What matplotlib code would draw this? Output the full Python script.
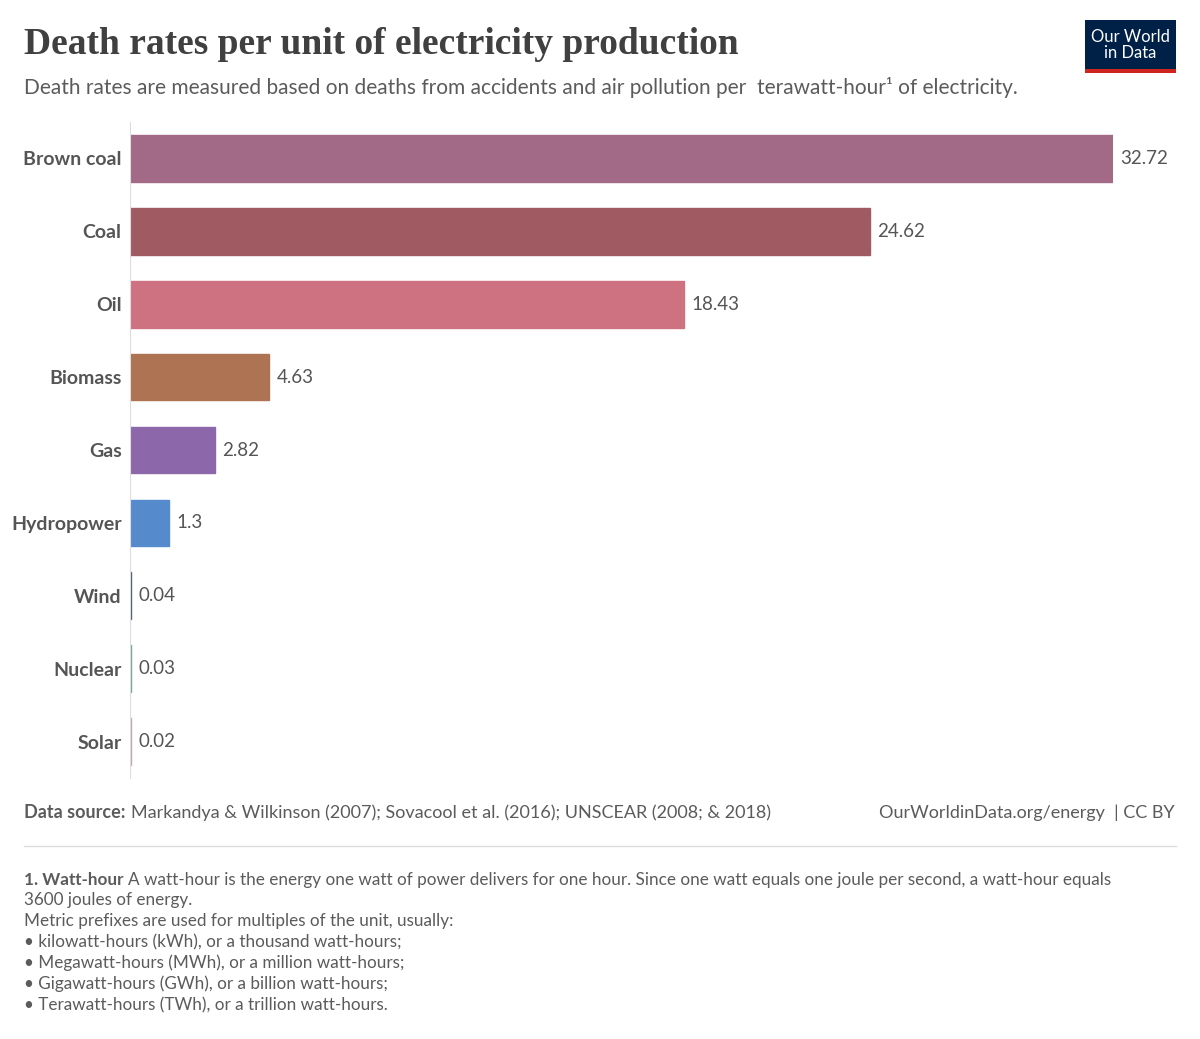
import matplotlib
matplotlib.use("Agg")
import matplotlib.pyplot as plt
from matplotlib.patches import Rectangle

sources = ["Brown coal", "Coal", "Oil", "Biomass", "Gas", "Hydropower", "Wind", "Nuclear", "Solar"]
rates = [32.72, 24.62, 18.43, 4.63, 2.82, 1.3, 0.04, 0.03, 0.02]
labels = ["32.72", "24.62", "18.43", "4.63", "2.82", "1.3", "0.04", "0.03", "0.02"]
colors = ["#a26a86", "#a05a61", "#ce7282", "#ae7352", "#8c67a9", "#558acc",
          "#4d6172", "#6aa99a", "#c7a2b2"]

plt.rcParams["font.family"] = ["Lato", "DejaVu Sans"]
W, H = 1200, 1039
fig = plt.figure(figsize=(W / 100, H / 100), dpi=100)
ax = fig.add_axes([130 / W, 1 - 778 / H, (1113 - 130) / W, (778 - 122) / H])

y = list(range(len(sources)))
ax.barh(y, rates, height=0.64, color=colors, edgecolor=colors, linewidth=1)
ax.set_xlim(0, 32.72)
ax.set_ylim(len(sources) - 0.5, -0.5)
for yi, v, lab in zip(y, rates, labels):
    ax.text(v + 0.25, yi, lab, va="center", ha="left", fontsize=13.5, color="#555555")
ax.set_yticks(y)
ax.set_yticklabels(sources, fontsize=14, fontweight="bold", color="#555555")
ax.tick_params(axis="y", length=0, pad=6)
ax.set_xticks([])
for s in ["top", "right", "bottom"]:
    ax.spines[s].set_visible(False)
ax.spines["left"].set_color("#dddddd")

fig.text(24 / W, 1 - 44 / H, "Death rates per unit of electricity production",
         family=["Liberation Serif", "DejaVu Serif"], fontsize=27, fontweight="bold",
         color="#404040", va="center")
fig.text(24 / W, 1 - 87 / H,
         "Death rates are measured based on deaths from accidents and air pollution per  terawatt-hour¹ of electricity.",
         fontsize=15, color="#5b5b5b", va="center")

# logo
fig.patches.append(Rectangle((1085 / W, 1 - 73 / H), 91 / W, 53 / H, transform=fig.transFigure,
                             facecolor="#002147", edgecolor="none"))
fig.patches.append(Rectangle((1085 / W, 1 - 73 / H), 91 / W, 4 / H, transform=fig.transFigure,
                             facecolor="#ce261e", edgecolor="none"))
fig.text(1130 / W, 1 - 45 / H, "Our World\nin Data", ha="center", va="center", color="white",
         fontsize=12, linespacing=0.95)

fig.text(24 / W, 1 - 813 / H, "Data source:", fontsize=13, fontweight="bold", color="#5b5b5b", va="center")
fig.text(131 / W, 1 - 813 / H,
         "Markandya & Wilkinson (2007); Sovacool et al. (2016); UNSCEAR (2008; & 2018)",
         fontsize=13, color="#5b5b5b", va="center")
fig.text(1175 / W, 1 - 813 / H, "OurWorldinData.org/energy  | CC BY", fontsize=13,
         color="#5b5b5b", va="center", ha="right")
fig.add_artist(plt.Line2D([24 / W, 1176 / W], [1 - 846 / H] * 2, color="#dddddd", lw=1))

fig.text(24 / W, 1 - 880 / H, "1. Watt-hour", fontsize=12.3, fontweight="bold", color="#5b5b5b", va="center")
fig.text(128 / W, 1 - 880 / H,
         "A watt-hour is the energy one watt of power delivers for one hour. Since one watt equals one joule per second, a watt-hour equals",
         fontsize=12.3, color="#5b5b5b", va="center")
notes = ["3600 joules of energy.",
         "Metric prefixes are used for multiples of the unit, usually:",
         "• kilowatt-hours (kWh), or a thousand watt-hours;",
         "• Megawatt-hours (MWh), or a million watt-hours;",
         "• Gigawatt-hours (GWh), or a billion watt-hours;",
         "• Terawatt-hours (TWh), or a trillion watt-hours."]
for i, line in enumerate(notes):
    fig.text(24 / W, 1 - (900 + 21 * i) / H, line, fontsize=12.3, color="#5b5b5b", va="center")

fig.savefig("out.png", dpi=100, facecolor="white")
